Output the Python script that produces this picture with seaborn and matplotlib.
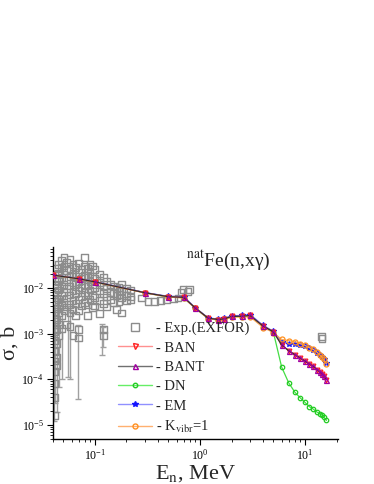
import numpy as np
import matplotlib
matplotlib.use('Agg')
import matplotlib.pyplot as plt
import seaborn as sns
from matplotlib.lines import Line2D

# model energies (MeV)
energy = [0.04, 0.07, 0.1, 0.3, 0.5, 0.7, 0.9, 1.2, 1.5, 1.7, 2, 2.5, 3, 4, 5,
          6, 7, 8, 9, 10, 11, 12, 13, 14, 14.5, 15, 16]

# cross sections (b)
ban = [0.019, 0.0158, 0.0135, 0.0078, 0.0064, 0.0062, 0.00365, 0.00216, 0.00202, 0.00209,
       0.00236, 0.00239, 0.00248, 0.00145, 0.00109,
       5.6e-4, 4.2e-4, 3.45e-4, 2.9e-4, 2.48e-4, 2.15e-4, 1.9e-4, 1.62e-4, 1.4e-4, 1.28e-4, 1.18e-4, 9.8e-5]
bant = [0.019, 0.0158, 0.0135, 0.0078, 0.0064, 0.0062, 0.00365, 0.00216, 0.00202, 0.00209,
        0.00236, 0.00239, 0.00248, 0.00145, 0.00109,
        5.6e-4, 4.2e-4, 3.45e-4, 2.9e-4, 2.48e-4, 2.15e-4, 1.9e-4, 1.62e-4, 1.4e-4, 1.28e-4, 1.18e-4, 9.8e-5]
dn = [0.019, 0.0158, 0.0135, 0.0078, 0.0063, 0.0061, 0.0036, 0.00212, 0.00198, 0.00205,
      0.00232, 0.00235, 0.00242, 0.00142, 0.00107,
      1.83e-4, 8.3e-5, 5.2e-5, 3.9e-5, 3.1e-5, 2.5e-5, 2.2e-5, 1.9e-5, 1.75e-5, 1.63e-5, 1.5e-5, 1.25e-5]
em = [0.0192, 0.016, 0.0137, 0.0079, 0.0065, 0.0064, 0.0037, 0.0022, 0.00206, 0.00214,
      0.00245, 0.00248, 0.0026, 0.0015, 0.00112,
      6.6e-4, 6.0e-4, 5.8e-4, 5.5e-4, 5.2e-4, 4.8e-4, 4.4e-4, 3.8e-4, 3.4e-4, 3.1e-4, 2.8e-4, 2.3e-4]
kvibr = [0.019, 0.0157, 0.0134, 0.0077, 0.0063, 0.006, 0.0036, 0.0021, 0.00198, 0.00203,
         0.00228, 0.0023, 0.00232, 0.00135, 0.00105,
         7.4e-4, 7.0e-4, 6.6e-4, 6.0e-4, 5.5e-4, 4.9e-4, 4.5e-4, 3.9e-4, 3.3e-4, 3.0e-4, 2.7e-4, 2.15e-4]

# experimental points (EXFOR)
exp_energy = ([0.041] * 14 + [0.043] * 10 + [0.045] * 8 + [0.048] * 8 + [0.051] * 7
              + [0.054] * 7 + [0.058] * 8 + [0.062] * 7 + [0.066] * 6 + [0.070] * 8
              + [0.075] * 5 + [0.080] * 6 + [0.085] * 6 + [0.090] * 5 + [0.095] * 5
              + [0.100] * 5 + [0.110] * 5 + [0.120] * 6 + [0.130] * 4 + [0.140] * 3
              + [0.150] * 3 + [0.160] * 3 + [0.170] * 3 + [0.180] * 4 + [0.200] * 3
              + [0.220] * 3
              + [0.28, 0.32, 0.37, 0.42, 0.48, 0.56, 0.62, 0.66, 0.69, 0.77, 0.80, 14.3, 14.5])
exp_sigma = [0.020, 0.012, 0.008, 0.005, 0.003, 0.0018, 0.0011, 7e-4, 4e-4, 2.5e-4, 1.5e-4, 8e-5, 4e-5, 1.6e-5,
             0.026, 0.016, 0.010, 0.006, 0.0035, 0.002, 0.0012, 6e-4, 3e-4, 2e-4,
             0.033, 0.021, 0.014, 0.009, 0.0055, 0.0028, 0.0016, 9e-4,
             0.040, 0.028, 0.017, 0.011, 0.0068, 0.0042, 0.0025, 0.0013,
             0.046, 0.030, 0.020, 0.012, 0.0078, 0.0048, 0.0031,
             0.036, 0.024, 0.015, 0.0095, 0.006, 0.0038, 0.0016,
             0.042, 0.027, 0.018, 0.011, 0.007, 0.0044, 0.0028, 0.0014,
             0.032, 0.021, 0.013, 0.0085, 0.0052, 0.0033, 0.0009,
             0.028, 0.018, 0.012, 0.0075, 0.0046, 0.0025,
             0.035, 0.022, 0.014, 0.009, 0.0055, 0.0032, 0.0012, 8e-4,
             0.025, 0.016, 0.010, 0.0065, 0.004,
             0.046, 0.030, 0.019, 0.012, 0.0078, 0.0048,
             0.027, 0.017, 0.011, 0.007, 0.0042, 0.0025,
             0.033, 0.021, 0.014, 0.009, 0.0055,
             0.030, 0.018, 0.0115, 0.0068, 0.0037,
             0.025, 0.016, 0.010, 0.0062, 0.004,
             0.020, 0.013, 0.0085, 0.0052, 0.0027,
             0.017, 0.011, 0.0075, 0.0045, 0.0012, 0.0009,
             0.014, 0.0095, 0.0063, 0.0038,
             0.012, 0.008, 0.0055,
             0.011, 0.0075, 0.0048,
             0.0095, 0.0068, 0.0033,
             0.010, 0.0072, 0.005,
             0.012, 0.0085, 0.006, 0.0028,
             0.0095, 0.0068, 0.0052,
             0.009, 0.0063, 0.0055,
             0.006, 0.0051, 0.0051, 0.0053, 0.0055, 0.0057, 0.006, 0.0078, 0.0092, 0.0084, 0.0092, 8.6e-4, 7.8e-4]

# long error bars
bar_energy = [0.041, 0.042, 0.044, 0.046, 0.049, 0.055, 0.058, 0.069, 0.116, 0.12]
bar_low = [1.2e-5, 3e-5, 1.9e-5, 6.6e-5, 1e-4, 1.1e-4, 1e-4, 3.6e-5, 3.3e-4, 5e-4]
bar_high = [4e-3, 6e-3, 8e-3, 6e-3, 5e-3, 4e-3, 3e-3, 1.5e-3, 1.6e-3, 1.4e-3]

legend_labels = ['- Exp.(EXFOR)', '- BAN', '- BANT', '- DN', '- EM', '- K$_{\\rm vibr}$=1']

sns.set_style('ticks')
plt.rcParams['font.family'] = ['Liberation Serif', 'DejaVu Serif']
plt.rcParams['mathtext.fontset'] = 'stix'

fig = plt.figure(figsize=(3.74, 4.84), dpi=100)
ax = fig.add_axes([0.1417, 0.093, 0.762, 0.397])

gray = '#8c8c8c'
bl = np.array(bar_low)
bh = np.array(bar_high)
ax.errorbar(bar_energy, bl, yerr=[np.zeros_like(bl), bh - bl], fmt='none',
            ecolor='#a0a0a0', elinewidth=1, capsize=2.5, zorder=1)
sns.scatterplot(x=exp_energy, y=exp_sigma, marker='s', s=24, facecolor='none',
                edgecolor=gray, linewidth=1, ax=ax, zorder=2)

styles = [
    (dn, '#44dd44', '#22cc22', 'o', 3.2),
    (em, '#5a5aff', '#1515ff', '*', 4.0),
    (kvibr, '#ffaa55', '#ff9020', 'o', 3.6),
    (ban, '#ff7070', '#ff2020', 'v', 3.4),
    (bant, '#303030', '#a000a0', '^', 3.6),
]
for vals, lc, mc, m, ms in styles:
    sns.lineplot(x=energy, y=vals, color=lc, marker=m, markersize=ms,
                 markerfacecolor='none' if m != '*' else mc, markeredgecolor=mc,
                 markeredgewidth=0.9, linewidth=0.9, ax=ax, sort=False,
                 errorbar=None, legend=False, zorder=3)

ax.set_xscale('log')
ax.set_yscale('log')
ax.set_xlim(0.04, 20.6)
ax.set_ylim(4.9e-6, 0.079)
sns.despine(ax=ax)
for s in ['left', 'bottom']:
    ax.spines[s].set_linewidth(1)
    ax.spines[s].set_color('black')
ax.tick_params(which='major', length=4, width=0.8, labelsize=8.5, pad=2.5,
               direction='out', colors='black')
ax.tick_params(which='minor', length=2.5, width=0.7, direction='out')

ax.set_xlabel('E$_{\\rm n}$, MeV', fontsize=16)
ax.set_ylabel('σ, b', fontsize=16)
ax.xaxis.set_label_coords(0.50, -0.128)
ax.yaxis.set_label_coords(-0.116, 0.50)
ax.text(0.465, 0.93, '$^{\\rm nat}$Fe(n,xγ)', transform=ax.transAxes,
        fontsize=14, ha='left', va='center')

handles = [
    Line2D([], [], ls='none', marker='s', mfc='none', mec=gray, ms=6, mew=1),
    Line2D([], [], color='#ff9090', lw=1, marker='v', mfc='none', mec='#ff2020', ms=3.6),
    Line2D([], [], color='#707070', lw=1, marker='^', mfc='none', mec='#a000a0', ms=3.6),
    Line2D([], [], color='#66ee66', lw=1, marker='o', mfc='none', mec='#22cc22', ms=3.2),
    Line2D([], [], color='#9090ff', lw=1, marker='*', mfc='#1515ff', mec='#1515ff', ms=4),
    Line2D([], [], color='#ffb070', lw=1, marker='o', mfc='none', mec='#ff9020', ms=3.6),
]
ax.legend(handles, legend_labels, loc='upper left', bbox_to_anchor=(0.228, 0.61),
          frameon=False, fontsize=10.5, handlelength=2.3, handletextpad=0.3,
          labelspacing=0.42, borderpad=0, borderaxespad=0, numpoints=1)

fig.savefig('out.png', dpi=100)
